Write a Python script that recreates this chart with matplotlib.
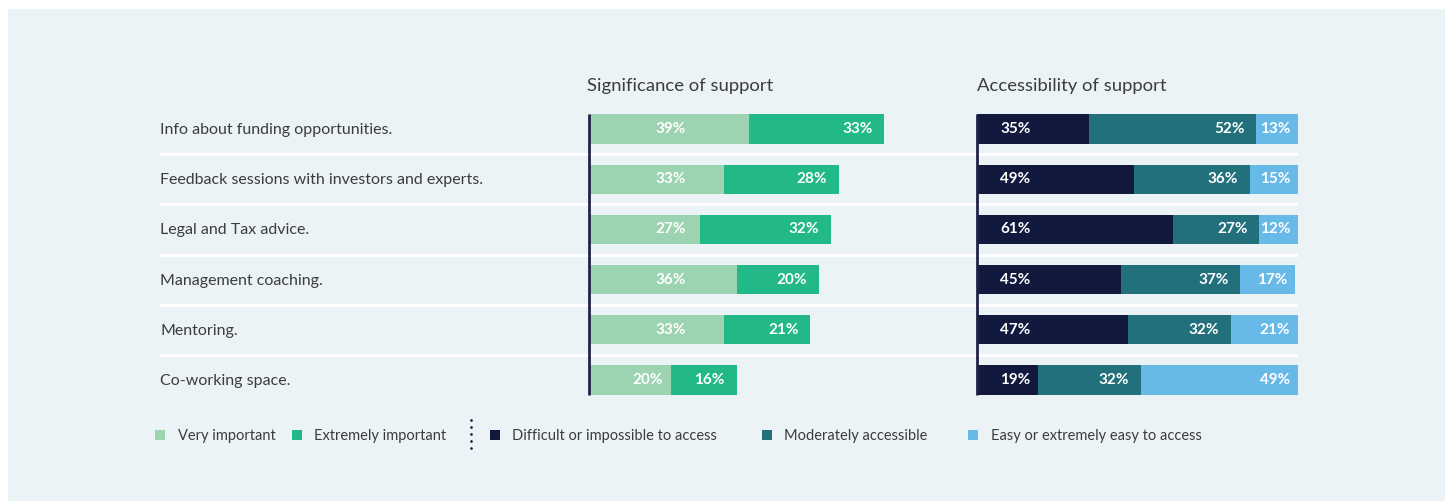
import matplotlib.pyplot as plt
from matplotlib.patches import Rectangle
from matplotlib.lines import Line2D
import numpy as np

# Data
categories = ['Info about funding opportunities.',
              'Feedback sessions with investors and experts.',
              'Legal and Tax advice.',
              'Management coaching.',
              'Mentoring.',
              'Co-working space.']
very_important = [39, 33, 27, 36, 33, 20]
extremely_important = [33, 28, 32, 20, 21, 16]
difficult = [35, 49, 61, 45, 47, 19]
moderate = [52, 36, 27, 37, 32, 32]
easy = [13, 15, 12, 17, 21, 49]

sig_title = 'Significance of support'
acc_title = 'Accessibility of support'
legend_labels = ['Very important', 'Extremely important',
                 'Difficult or impossible to access', 'Moderately accessible',
                 'Easy or extremely easy to access']

# Colours
c_light_green = '#9cd3b0'
c_green = '#22b887'
c_navy = '#12193e'
c_teal = '#22707c'
c_blue = '#67b9e8'
c_bg = '#ebf3f7'
c_text = '#3c3c3c'
legend_colors = [c_light_green, c_green, c_navy, c_teal, c_blue]

W, H = 1453, 501
plt.rcParams['font.family'] = ['Lato', 'DejaVu Sans']

fig = plt.figure(figsize=(W / 100, H / 100), dpi=100)
fig.patch.set_facecolor('white')


def fx(px):
    return px / W


def fy(py):
    return 1 - py / H


# panel background
fig.add_artist(Rectangle((fx(8), 0), fx(1445) - fx(8), fy(9), transform=fig.transFigure,
                         facecolor=c_bg, edgecolor='none', zorder=0))

n = len(categories)
y = np.arange(n)
row_px = 50.2
top_px = 129 - row_px / 2
bot_px = 380 + row_px / 2
ax_bottom = fy(bot_px)
ax_height = (bot_px - top_px) / H
bar_h = 0.58

# background axes for labels and separators
bg = fig.add_axes([fx(160), ax_bottom, fx(1298) - fx(160), ax_height])
bg.set_xlim(0, 1)
bg.set_ylim(n - 0.5, -0.5)
bg.axis('off')
for i in range(n - 1):
    bg.axhline(i + 0.5, color='white', lw=2.2, zorder=1)
for i, cat in enumerate(categories):
    bg.text(0, i + 0.02, cat, ha='left', va='center', fontsize=11.5, color=c_text)

lbl = dict(color='white', fontsize=11, fontweight='bold', va='center', zorder=4)

# left panel
scale_l = 4.1  # px per percent
axl = fig.add_axes([fx(589), ax_bottom, 80 * scale_l / W, ax_height])
axl.set_xlim(0, 80)
axl.set_ylim(n - 0.5, -0.5)
axl.axis('off')
vi = np.array(very_important)
ei = np.array(extremely_important)
axl.barh(y, vi, height=bar_h, color=c_light_green, zorder=2)
axl.barh(y, ei, left=vi, height=bar_h, color=c_green, zorder=2)
axl.vlines(0, -bar_h / 2, n - 1 + bar_h / 2, color='#1e2444', lw=2, zorder=3, clip_on=False)
for i in range(n):
    if vi[i] - 20 > 6:
        axl.text(20, i, f'{vi[i]}%', ha='center', **lbl)
    else:
        axl.annotate(f'{vi[i]}%', (vi[i], i), xytext=(-6, 0),
                     textcoords='offset points', ha='right', **lbl)
    axl.annotate(f'{ei[i]}%', (vi[i] + ei[i], i), xytext=(-8.5, 0),
                 textcoords='offset points', ha='right', **lbl)
axl.text(-0.5, -0.86, sig_title, ha='left', va='center', fontsize=13.3, color=c_text)

# right panel
axr = fig.add_axes([fx(977), ax_bottom, fx(1298) - fx(977), ax_height])
axr.set_xlim(0, 100)
axr.set_ylim(n - 0.5, -0.5)
axr.axis('off')
d = np.array(difficult)
m = np.array(moderate)
e = np.array(easy)
axr.barh(y, d, height=bar_h, color=c_navy, zorder=2)
axr.barh(y, m, left=d, height=bar_h, color=c_teal, zorder=2)
axr.barh(y, e, left=d + m, height=bar_h, color=c_blue, zorder=2)
axr.vlines(0, -bar_h / 2, n - 1 + bar_h / 2, color='#1e2444', lw=2, zorder=3, clip_on=False)
for i in range(n):
    axr.text(12, i, f'{d[i]}%', ha='center', **lbl)
    axr.annotate(f'{m[i]}%', (d[i] + m[i], i), xytext=(-8.5, 0),
                 textcoords='offset points', ha='right', **lbl)
    axr.annotate(f'{e[i]}%', (d[i] + m[i] + e[i], i), xytext=(-5.5, 0),
                 textcoords='offset points', ha='right', **lbl)
axr.text(0, -0.86, acc_title, ha='left', va='center', fontsize=13.3, color=c_text)

# legend
sq_x = [155, 292, 490, 762, 968]
txt_x = [178, 314, 512, 784, 991]
leg_y = 435
for sx, tx, lab, col in zip(sq_x, txt_x, legend_labels, legend_colors):
    fig.add_artist(Rectangle((fx(sx), fy(leg_y + 5)), 10 / W, 10 / H, transform=fig.transFigure,
                             facecolor=col, edgecolor='none'))
    fig.text(fx(tx), fy(leg_y + 1), lab, ha='left', va='center', fontsize=10.5, color=c_text)
dots_y = np.linspace(420, 448, 5)
fig.add_artist(Line2D([fx(471)] * 5, [fy(v) for v in dots_y], transform=fig.transFigure,
                      color=c_navy, lw=0, marker='o', markersize=1.9, markeredgewidth=0))

fig.savefig('out.png', dpi=100, facecolor=fig.get_facecolor())
